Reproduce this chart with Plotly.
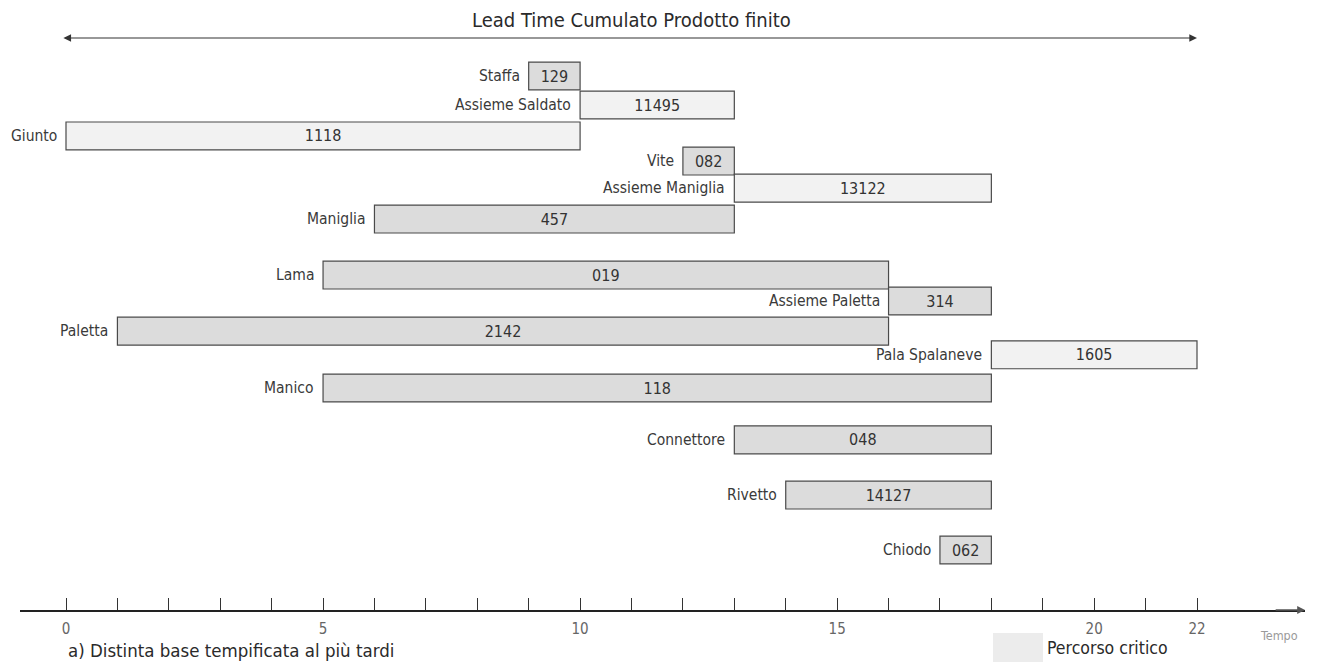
import plotly.graph_objects as go

# ---- data ----
names = ["Staffa", "Assieme Saldato", "Giunto", "Vite", "Assieme Maniglia", "Maniglia",
         "Lama", "Assieme Paletta", "Paletta", "Pala Spalaneve", "Manico",
         "Connettore", "Rivetto", "Chiodo"]
codes = ["129", "11495", "1118", "082", "13122", "457",
         "019", "314", "2142", "1605", "118",
         "048", "14127", "062"]
start = [9, 10, 0, 12, 13, 6, 5, 16, 1, 18, 5, 13, 14, 17]
end = [10, 13, 10, 13, 18, 13, 16, 18, 16, 22, 18, 18, 18, 18]
critical = [True, False, False, True, False, True, True, True, True, False, True, True, True, True]
tick_vals = list(range(0, 23))
tick_labels = {0: "0", 5: "5", 10: "10", 15: "15", 20: "20", 22: "22"}

# ---- layout constants ----
rows = [0, 1.04, 2.15, 3.05, 4.02, 5.13, 7.14, 8.07, 9.15, 10.0, 11.19, 13.05, 15.03, 17.0]
FONT = "Liberation Sans Narrow, DejaVu Sans Condensed, Roboto, sans-serif"
CRIT_FILL = "#dcdcdc"
NORM_FILL = "#f2f2f2"
EDGE = "#4a4a4a"

OFF = 8  # page body margin
W, H = 1320 - OFF, 664 - OFF
ML = 20 - OFF
MR = W - (1305 - OFF)
MT = 0
MB = H - (610 - OFF)
plot_w = W - ML - MR
plot_h = H - MT - MB

px_unit = (1197 - 66) / 22.0
x0 = -(66 - 20) / px_unit
x1 = (1305 - 66) / px_unit
row_px = (550 - 76) / 17.0
y_top = -(76 - OFF) / row_px
y_bot = (610 - 76) / row_px


def paper_x(px):
    return (px - OFF - ML) / plot_w


def paper_y(py):
    return (plot_h - (py - OFF - MT)) / plot_h


def row_y(py):
    return (py - 76) / row_px


dur = [e - s for s, e in zip(start, end)]
colors = [CRIT_FILL if c else NORM_FILL for c in critical]

fig = go.Figure()
fig.add_trace(go.Bar(
    orientation="h",
    base=start,
    x=dur,
    y=rows,
    width=[1.0] * len(rows),
    marker=dict(color=colors, line=dict(color=EDGE, width=1.2)),
    text=codes,
    textposition="inside",
    insidetextanchor="middle",
    textangle=0,
    constraintext="none",
    textfont=dict(family=FONT, size=16, color="#333333"),
    hoverinfo="skip",
    showlegend=False,
))

annotations = []
for n, s, r in zip(names, start, rows):
    annotations.append(dict(
        x=s, y=r, xref="x", yref="y", text=n, showarrow=False,
        xanchor="right", yanchor="middle", xshift=-7,
        font=dict(family=FONT, size=15.5, color="#3a3a3a"),
    ))

# title and lead-time double arrow
annotations.append(dict(
    x=11, y=paper_y(20), xref="x", yref="paper", text="Lead Time Cumulato Prodotto finito",
    showarrow=False, xanchor="center", yanchor="middle",
    font=dict(family=FONT, size=20, color="#2a2a2a"),
))
y_arrow = row_y(38)
annotations.append(dict(
    x=end[9], y=y_arrow, ax=-0.08, ay=y_arrow, xref="x", yref="y", axref="x", ayref="y",
    text="", showarrow=True, arrowhead=2, arrowside="end+start", arrowsize=1.4,
    arrowwidth=1.1, arrowcolor="#333333",
))

# axis end arrow
y_axis = row_y(610)
annotations.append(dict(
    x=x1, y=y_axis, ax=x1 - 0.6, ay=y_axis, xref="x", yref="y", axref="x", ayref="y",
    text="", showarrow=True, arrowhead=2, arrowsize=1.2, arrowwidth=1.3,
    arrowcolor="#555555",
))

# bottom texts
annotations.append(dict(
    x=paper_x(66), y=paper_y(650), xref="paper", yref="paper",
    text="a) Distinta base tempificata al più tardi", showarrow=False,
    xanchor="left", yanchor="middle",
    font=dict(family=FONT, size=18.5, color="#2a2a2a"),
))
annotations.append(dict(
    x=paper_x(1300), y=paper_y(635), xref="paper", yref="paper",
    text="Tempo", showarrow=False, xanchor="right", yanchor="middle",
    font=dict(family=FONT, size=12.5, color="#9a9a9a"),
))
annotations.append(dict(
    x=paper_x(1045), y=paper_y(648), xref="paper", yref="paper",
    text="Percorso critico", showarrow=False, xanchor="left", yanchor="middle",
    font=dict(family=FONT, size=17.5, color="#2a2a2a"),
))

shapes = [dict(
    type="rect", xref="paper", yref="paper",
    x0=paper_x(993), x1=paper_x(1043),
    y0=paper_y(633), y1=paper_y(662),
    fillcolor="#ececec", line=dict(width=0), layer="below",
)]

fig.update_layout(
    width=W, height=H,
    margin=dict(l=ML, r=MR, t=MT, b=MB),
    paper_bgcolor="white", plot_bgcolor="white",
    annotations=annotations, shapes=shapes,
    barmode="overlay",
    xaxis=dict(
        range=[x0, x1], showgrid=False, zeroline=False,
        showline=True, linecolor="#222222", linewidth=2,
        ticks="inside", ticklen=12, tickwidth=1.2, tickcolor="#333333",
        tickvals=tick_vals, ticktext=[tick_labels.get(v, "") for v in tick_vals],
        tickfont=dict(family=FONT, size=15, color="#666666"),
        ticklabelstandoff=4,
        fixedrange=True,
    ),
    yaxis=dict(
        range=[y_bot, y_top], showgrid=False, zeroline=False, showline=False,
        showticklabels=False, ticks="", fixedrange=True,
    ),
)

fig.write_html("out.html")
